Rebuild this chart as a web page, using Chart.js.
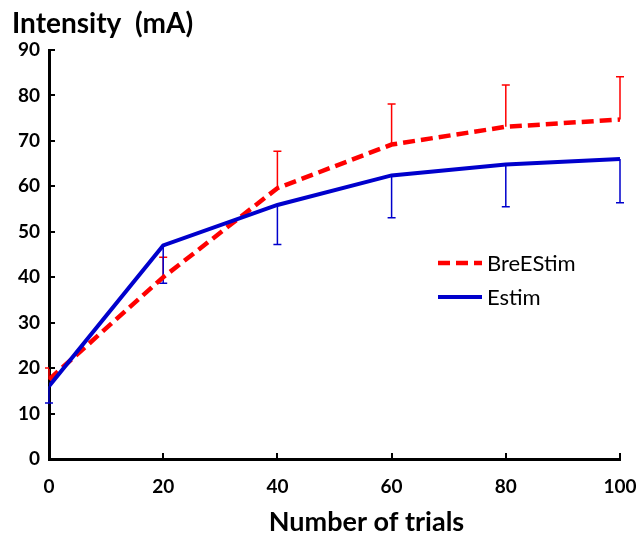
<!DOCTYPE html>
<html>
<head>
<meta charset="utf-8">
<script src="https://cdn.jsdelivr.net/npm/chart.js@4.4.0/dist/chart.umd.min.js"></script>
<style>
  html, body { margin: 0; padding: 0; background: #fff; }
</style>
</head>
<body>
<canvas id="myChart" width="639" height="535"></canvas>
<script>
// data
const trials = [0, 20, 40, 60, 80, 100];
const breEstim = [17.5, 40, 59.6, 69.2, 73.1, 74.7];
const breEstimErr = [2.5, 4.4, 8.1, 8.9, 9.2, 9.4];
const estim = [16, 47, 55.9, 62.4, 64.8, 66];
const estimErr = [3.7, 8.3, 8.7, 9.3, 9.3, 9.6];
const seriesNames = ['BreEStim', 'Estim'];
const xTitle = 'Number of trials';
const yTitle = 'Intensity  (mA)';

const RED = '#ff0000';
const BLUE = '#0000cc';

function points(values) {
  return trials.map((t, i) => ({ x: t, y: values[i] }));
}

// error bars: red go up, blue go down
const errorBars = {
  id: 'errorBars',
  beforeDatasetsDraw(chart) {
    const ctx = chart.ctx;
    const xs = chart.scales.x, ys = chart.scales.y;
    chart.data.datasets.forEach(ds => {
      ctx.save();
      ctx.strokeStyle = ds.borderColor;
      ctx.lineWidth = 1.5;
      ds.data.forEach((p, i) => {
        const px = xs.getPixelForValue(p.x);
        const y0 = ys.getPixelForValue(p.y);
        const y1 = ys.getPixelForValue(p.y + ds.errDir * ds.err[i]);
        ctx.beginPath();
        ctx.moveTo(px, y0);
        ctx.lineTo(px, y1);
        ctx.moveTo(px - 4, y1);
        ctx.lineTo(px + 4, y1);
        ctx.stroke();
      });
      ctx.restore();
    });
  },
  afterDraw(chart) {
    const ctx = chart.ctx;
    const xs = chart.scales.x, ys = chart.scales.y;
    const area = chart.chartArea;
    // inward tick marks
    ctx.save();
    ctx.strokeStyle = '#000';
    ctx.lineWidth = 2;
    ctx.beginPath();
    xs.ticks.forEach(t => {
      const px = Math.round(xs.getPixelForValue(t.value));
      ctx.moveTo(px, area.bottom);
      ctx.lineTo(px, area.bottom - 6);
    });
    ys.ticks.forEach(t => {
      const py = Math.round(ys.getPixelForValue(t.value));
      ctx.moveTo(area.left, py);
      ctx.lineTo(area.left + 6, py);
    });
    ctx.stroke();

    // x axis title, sits a bit right of centre in the original
    ctx.fillStyle = '#000';
    ctx.font = 'bold 27px Lato';
    ctx.textAlign = 'center';
    ctx.textBaseline = 'alphabetic';
    ctx.fillText(xTitle, (area.left + area.right) / 2 + 32, 531);

    // legend
    const lx = 438, ly = 263, gap = 34;
    ctx.textAlign = 'left';
    chart.data.datasets.forEach((ds, i) => {
      const y = ly + i * gap;
      ctx.strokeStyle = ds.borderColor;
      ctx.lineWidth = ds.borderWidth;
      ctx.setLineDash(ds.borderDash || []);
      ctx.beginPath();
      ctx.moveTo(lx, y);
      ctx.lineTo(lx + 44, y);
      ctx.stroke();
      ctx.setLineDash([]);
      ctx.fillStyle = '#000';
      ctx.font = '22px Lato';
      ctx.textBaseline = 'middle';
      ctx.fillText(ds.label, lx + 49, y + 1);
    });
    ctx.restore();
  }
};

const tickFont = { family: 'Lato', size: 19, weight: 'bold' };

new Chart(document.getElementById('myChart'), {
  type: 'line',
  data: {
    datasets: [
      {
        label: seriesNames[0],
        data: points(breEstim),
        err: breEstimErr,
        errDir: 1,
        borderColor: RED,
        borderWidth: 4.5,
        borderDash: [12, 6],
        pointRadius: 0,
        tension: 0,
        order: 1
      },
      {
        label: seriesNames[1],
        data: points(estim),
        err: estimErr,
        errDir: -1,
        borderColor: BLUE,
        borderWidth: 4,
        pointRadius: 0,
        tension: 0,
        order: 0
      }
    ]
  },
  options: {
    responsive: false,
    animation: false,
    layout: { padding: { left: 12, right: 19, top: 0, bottom: 0 } },
    plugins: {
      legend: { display: false },
      tooltip: { enabled: false },
      title: {
        display: true,
        text: yTitle,
        align: 'start',
        color: '#000',
        font: { family: 'Lato', size: 28, weight: 'bold', lineHeight: 1 },
        padding: { top: 10, bottom: 12 }
      }
    },
    scales: {
      x: {
        type: 'linear',
        min: 0,
        max: 100,
        ticks: { stepSize: 20, color: '#000', font: tickFont, padding: 16 },
        grid: { display: false, drawTicks: false },
        border: { display: true, color: '#000', width: 3 },
        afterFit(scale) {
          scale.height = 76;
          scale.paddingLeft = 0;
          scale.paddingRight = 0;
        }
      },
      y: {
        min: 0,
        max: 90,
        ticks: { stepSize: 10, color: '#000', font: tickFont, padding: 9 },
        grid: { display: false, drawTicks: false },
        border: { display: true, color: '#000', width: 3 },
        afterFit(scale) { scale.width = 37; }
      }
    }
  },
  plugins: [errorBars]
});
</script>
</body>
</html>
